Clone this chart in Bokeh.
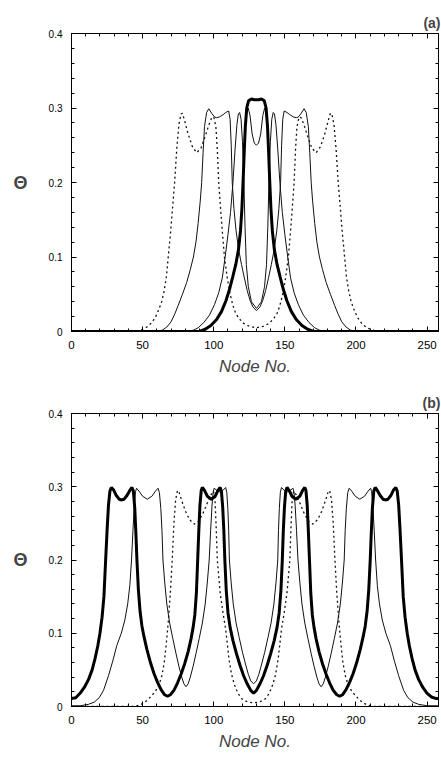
from bokeh.plotting import figure
from bokeh.models import FixedTicker, LinearAxis, Range1d
from bokeh.layouts import column
from bokeh.embed import file_html
from bokeh.resources import INLINE

FONT = "Liberation Sans"

# axis ticks
x_ticks = [0, 50, 100, 150, 200, 250]
x_tick_labels = ["0", "50", "100", "150", "200", "250"]
y_ticks = [0, 0.1, 0.2, 0.3, 0.4]
y_tick_labels = ["0", "0.1", "0.2", "0.3", "0.4"]
x_minor = list(range(0, 260, 10))
y_minor = [round(i * 0.02, 2) for i in range(21)]

# ---- panel (a): (node, theta) profiles ----
a_dotted = [(0, 0), (45, 0), (50, 0.003), (53, 0.006), (56, 0.011), (59, 0.019), (61.5, 0.03),
            (63.4, 0.04), (65.2, 0.055), (66.8, 0.075), (68, 0.1), (69.5, 0.13), (71, 0.165),
            (72.5, 0.2), (74, 0.245), (75.5, 0.278), (77, 0.292), (78, 0.293), (79.5, 0.283),
            (82, 0.265), (85, 0.248), (88, 0.24), (91, 0.246), (94, 0.262), (96.5, 0.277),
            (98.6, 0.287), (100, 0.288), (101.5, 0.275), (102.5, 0.245), (103.5, 0.2), (105, 0.16),
            (106.3, 0.128), (107.5, 0.1), (109.5, 0.072), (111.5, 0.05), (113.5, 0.035),
            (115.5, 0.024), (118, 0.017), (121, 0.011), (125, 0.007), (130, 0.005), (135, 0.007),
            (139, 0.011), (142, 0.017), (144.5, 0.024), (146.5, 0.035), (148.5, 0.05),
            (150.5, 0.072), (152.5, 0.1), (153.7, 0.128), (155, 0.16), (156.5, 0.2), (157.5, 0.245),
            (158.5, 0.275), (160, 0.288), (161.4, 0.287), (163.5, 0.277), (166, 0.262),
            (169, 0.246), (172, 0.24), (175, 0.248), (178, 0.265), (180.5, 0.283), (182, 0.293),
            (183, 0.292), (184.5, 0.278), (186, 0.245), (187.5, 0.2), (189, 0.165), (190.5, 0.13),
            (192, 0.1), (193.2, 0.075), (194.8, 0.055), (196.6, 0.04), (198.5, 0.03), (201, 0.019),
            (204, 0.011), (207, 0.006), (210, 0.003), (215, 0), (258, 0)]

a_wide = [(0, 0), (60, 0), (64, 0.002), (67, 0.006), (70, 0.013), (72.7, 0.024), (75, 0.035),
          (78, 0.05), (81, 0.066), (83.5, 0.083), (85.7, 0.1), (87.5, 0.12), (89, 0.145),
          (90.5, 0.175), (91.5, 0.2), (92.5, 0.24), (93.5, 0.275), (95, 0.294), (96.5, 0.299),
          (98.5, 0.293), (100.5, 0.288), (102, 0.287), (104, 0.288), (106.5, 0.291), (108.5, 0.294),
          (110.5, 0.296), (111.5, 0.285), (112.3, 0.25), (113, 0.2), (114.2, 0.165), (115.7, 0.135),
          (117.5, 0.11), (119.5, 0.09), (121.5, 0.072), (123.5, 0.055), (125.5, 0.042),
          (127.5, 0.033), (130, 0.028), (132.5, 0.033), (134.5, 0.042), (136.5, 0.055),
          (138.5, 0.072), (140.5, 0.09), (142.5, 0.11), (144.3, 0.135), (145.8, 0.165), (147, 0.2),
          (147.7, 0.25), (148.5, 0.285), (149.5, 0.296), (151.5, 0.294), (153.5, 0.291),
          (156, 0.288), (158, 0.287), (159.5, 0.288), (161.5, 0.293), (163.5, 0.299), (165, 0.294),
          (166.5, 0.275), (167.5, 0.24), (168.5, 0.2), (169.5, 0.175), (171, 0.145), (172.5, 0.12),
          (174.3, 0.1), (176.5, 0.083), (179, 0.066), (182, 0.05), (185, 0.035), (187.3, 0.024),
          (190, 0.013), (193, 0.006), (196, 0.002), (200, 0), (258, 0)]

a_narrow = [(0, 0), (82, 0), (86, 0.002), (89, 0.005), (93, 0.012), (97, 0.022), (100.5, 0.036),
            (103.5, 0.052), (106, 0.072), (108, 0.1), (110, 0.13), (111.8, 0.16), (113.5, 0.2),
            (115, 0.245), (116.3, 0.278), (117.3, 0.292), (118.2, 0.294), (119.2, 0.285),
            (120.2, 0.255), (121.2, 0.2), (122, 0.14), (122.9, 0.09), (124.3, 0.06),
            (126.5, 0.04), (130, 0.031), (133.5, 0.04), (135.7, 0.06), (137.1, 0.09),
            (138, 0.14), (138.8, 0.2), (139.8, 0.255), (140.8, 0.285), (141.8, 0.294),
            (142.7, 0.292), (143.7, 0.278), (145, 0.245), (146.5, 0.2), (148.2, 0.16), (150, 0.13),
            (152, 0.1), (154, 0.072), (156.5, 0.052), (159.5, 0.036), (163, 0.022), (167, 0.012),
            (171, 0.005), (174, 0.002), (178, 0), (258, 0)]

a_split = [(0, 0), (88, 0), (92, 0.002), (96, 0.006), (100, 0.012), (104, 0.022), (107.5, 0.036),
           (110.5, 0.052), (113, 0.07), (115, 0.088), (117, 0.11), (118.5, 0.135), (119.7, 0.165),
           (120.7, 0.2), (121.5, 0.24), (122.3, 0.275), (123.2, 0.295), (124.2, 0.3),
           (125.5, 0.29), (127, 0.265), (128.5, 0.253), (130, 0.25), (131.5, 0.253), (133, 0.265),
           (134.5, 0.29), (135.8, 0.3), (136.8, 0.295), (137.7, 0.275), (138.5, 0.24),
           (139.3, 0.2), (140.3, 0.165), (141.5, 0.135), (143, 0.11), (145, 0.088), (147, 0.07),
           (149.5, 0.052), (152.5, 0.036), (156, 0.022), (160, 0.012), (164, 0.006),
           (168, 0.002), (172, 0), (258, 0)]

a_merged = [(0, 0), (90, 0), (94, 0.003), (98, 0.008), (102, 0.016), (105.5, 0.027),
            (108.5, 0.041), (111, 0.056), (113.3, 0.073), (115.5, 0.09), (117.4, 0.11),
            (118.8, 0.135), (119.8, 0.165), (120.6, 0.2), (121.4, 0.24), (122.2, 0.275),
            (123.2, 0.3), (124.5, 0.31), (126.5, 0.312), (128.5, 0.311), (130, 0.311),
            (131.5, 0.311), (133.5, 0.312), (135.5, 0.31), (136.8, 0.3), (137.8, 0.275),
            (138.6, 0.24), (139.4, 0.2), (140.2, 0.165), (141.2, 0.135), (142.6, 0.11),
            (144.5, 0.09), (146.7, 0.073), (149, 0.056), (151.5, 0.041), (154.5, 0.027),
            (158, 0.016), (162, 0.008), (166, 0.003), (170, 0), (258, 0)]

# ---- panel (b) ----
b_dotted = [(0, 0), (44, 0), (48, 0.002), (51, 0.005), (54, 0.01), (56.5, 0.015), (59, 0.021),
            (61.5, 0.029), (63.5, 0.042), (65.2, 0.06), (66.6, 0.085), (68, 0.115), (69.5, 0.155),
            (70.8, 0.2), (72, 0.25), (73.2, 0.282), (74.5, 0.295), (75.7, 0.292), (77.5, 0.281),
            (80, 0.267), (83, 0.255), (86.3, 0.249), (89.3, 0.253), (92.3, 0.263), (95.3, 0.277),
            (98, 0.289), (99.8, 0.294), (100.8, 0.285), (101.6, 0.25), (102.5, 0.2), (104.5, 0.155),
            (106.5, 0.128), (108.4, 0.105), (110.7, 0.065), (112.5, 0.044), (114.5, 0.03),
            (117, 0.018), (120, 0.01), (124, 0.006), (128, 0.005), (132, 0.006), (136, 0.01),
            (139, 0.018), (141.5, 0.03), (143.5, 0.044), (145.3, 0.065), (147.6, 0.105),
            (149.5, 0.128), (151.5, 0.155), (153.5, 0.2), (154.4, 0.25), (155.2, 0.285),
            (156.2, 0.294), (158, 0.289), (160.7, 0.277), (163.7, 0.263), (166.7, 0.253),
            (169.7, 0.249), (173, 0.255), (176, 0.267), (178.5, 0.281), (180.3, 0.292),
            (181.5, 0.295), (182.8, 0.282), (184, 0.25), (185.2, 0.2), (186.5, 0.155), (188, 0.115),
            (189.4, 0.085), (190.8, 0.06), (192.5, 0.042), (194.5, 0.029), (197, 0.021),
            (199.5, 0.015), (202, 0.01), (205, 0.005), (208, 0.002), (212, 0), (258, 0)]

b_thin = [(0, 0.001), (6, 0.001), (12, 0.003), (16, 0.006), (19.5, 0.012), (22.5, 0.022),
          (26, 0.042), (29, 0.062), (31.8, 0.083), (35, 0.1), (37.5, 0.118), (39.5, 0.14),
          (41, 0.165), (42.2, 0.2), (43.2, 0.24), (44.2, 0.275), (45, 0.293), (45.7, 0.298),
          (47.5, 0.294), (50, 0.287), (53.3, 0.283), (56.5, 0.287), (59, 0.294), (60.8, 0.298),
          (61.8, 0.292), (62.8, 0.27), (63.6, 0.24), (64.3, 0.2), (65.5, 0.17), (67, 0.14),
          (69, 0.114), (71.2, 0.093), (73.5, 0.072), (75.5, 0.055), (77.5, 0.04), (79, 0.031),
          (80.5, 0.027), (82, 0.031), (83.5, 0.04), (85.5, 0.055), (87.5, 0.072), (89.8, 0.093),
          (92, 0.114), (94, 0.14), (95.5, 0.17), (96.8, 0.2), (97.8, 0.24), (98.8, 0.275),
          (99.6, 0.293), (100.3, 0.298), (102.2, 0.295), (104.3, 0.293), (106.4, 0.295),
          (108.4, 0.299), (109.2, 0.292), (109.9, 0.27), (110.5, 0.24), (111, 0.2), (112.2, 0.17),
          (113.7, 0.14), (115.7, 0.114), (117.9, 0.094), (120.2, 0.074), (122.3, 0.058),
          (124.3, 0.044), (126, 0.035), (128, 0.031), (130, 0.035), (131.7, 0.044),
          (133.7, 0.058), (135.8, 0.074), (138.1, 0.094), (140.3, 0.114), (142.3, 0.14),
          (143.8, 0.17), (145, 0.2), (145.5, 0.24), (146.1, 0.27), (146.8, 0.292), (147.6, 0.299),
          (149.6, 0.295), (151.7, 0.293), (153.8, 0.295), (155.7, 0.298), (156.4, 0.293),
          (157.2, 0.275), (158.2, 0.24), (159.2, 0.2), (160.5, 0.17), (162, 0.14), (164, 0.114),
          (166.2, 0.093), (168.5, 0.072), (170.5, 0.055), (172.5, 0.04), (174, 0.031),
          (175.5, 0.027), (177, 0.031), (178.5, 0.04), (180.5, 0.055), (182.5, 0.072),
          (184.8, 0.093), (187, 0.114), (189, 0.14), (190.5, 0.17), (191.7, 0.2), (192.4, 0.24),
          (193.2, 0.27), (194.2, 0.292), (195.2, 0.298), (197, 0.294), (199.5, 0.287),
          (202.7, 0.283), (206, 0.287), (208.5, 0.294), (210.3, 0.298), (211, 0.293),
          (211.8, 0.275), (212.8, 0.24), (213.8, 0.2), (215, 0.165), (216.5, 0.14), (218.5, 0.118),
          (221, 0.1), (224.2, 0.083), (227, 0.062), (230, 0.042), (233.5, 0.022), (236.5, 0.012),
          (240, 0.006), (244, 0.003), (250, 0.001), (258, 0.001)]

b_thick = [(0, 0.011), (3, 0.012), (6, 0.018), (9, 0.026), (12, 0.037), (14.5, 0.05),
           (16.5, 0.065), (18.5, 0.083), (20, 0.1), (21.5, 0.122), (22.8, 0.15), (24, 0.2),
           (25, 0.24), (26, 0.275), (27, 0.294), (28, 0.299), (29.5, 0.296), (31.5, 0.288),
           (33.5, 0.283), (35.3, 0.282), (37, 0.283), (39, 0.288), (41, 0.295), (42.5, 0.299),
           (43.5, 0.294), (44.5, 0.27), (45.3, 0.235), (46, 0.2), (47, 0.16), (48.2, 0.13),
           (49.5, 0.11), (51, 0.095), (53, 0.078), (55.5, 0.06), (58, 0.045), (60.5, 0.033),
           (63, 0.023), (65.5, 0.016), (67.5, 0.014), (69.5, 0.016), (72, 0.022), (74.5, 0.032),
           (77, 0.044), (79.5, 0.058), (82, 0.075), (84, 0.092), (85.5, 0.108), (86.7, 0.125),
           (87.8, 0.155), (88.7, 0.2), (89.5, 0.24), (90.3, 0.275), (91.2, 0.295), (92, 0.299),
           (93.5, 0.295), (95.5, 0.287), (98.3, 0.283), (101, 0.287), (103, 0.295), (104.5, 0.299),
           (105.4, 0.294), (106.3, 0.272), (107.1, 0.24), (107.8, 0.2), (108.8, 0.158),
           (110, 0.128), (111.5, 0.108), (113.5, 0.09), (116, 0.072), (118.5, 0.056), (121, 0.042),
           (123.5, 0.031), (126, 0.022), (128, 0.018), (130, 0.022), (132.5, 0.031), (135, 0.042),
           (137.5, 0.056), (140, 0.072), (142.5, 0.09), (144.5, 0.108), (146, 0.128),
           (147.2, 0.158), (148.2, 0.2), (148.9, 0.24), (149.7, 0.272), (150.6, 0.294),
           (151.5, 0.299), (153, 0.295), (155, 0.287), (157.7, 0.283), (160.5, 0.287),
           (162.5, 0.295), (164, 0.299), (164.8, 0.295), (165.7, 0.275), (166.5, 0.24),
           (167.3, 0.2), (168.2, 0.155), (169.3, 0.125), (170.5, 0.108), (172, 0.092),
           (174, 0.075), (176.5, 0.058), (179, 0.044), (181.5, 0.032), (184, 0.022),
           (186.5, 0.016), (188.5, 0.014), (190.5, 0.016), (193, 0.023), (195.5, 0.033),
           (198, 0.045), (200.5, 0.06), (203, 0.078), (205, 0.095), (206.5, 0.11), (207.8, 0.13),
           (209, 0.16), (210, 0.2), (210.7, 0.235), (211.5, 0.27), (212.5, 0.294), (213.5, 0.299),
           (215, 0.295), (217, 0.288), (219, 0.283), (220.7, 0.282), (222.5, 0.283), (224.5, 0.288),
           (226.5, 0.296), (228, 0.299), (229, 0.294), (230, 0.275), (231, 0.24), (232, 0.2),
           (233.2, 0.15), (234.5, 0.122), (236, 0.1), (237.5, 0.083), (239.5, 0.065),
           (241.5, 0.05), (244, 0.037), (247, 0.026), (250, 0.018), (253, 0.013), (256, 0.011),
           (258, 0.011)]

THIN = dict(line_color="#111111", line_width=1.0)
THICK = dict(line_color="#000000", line_width=3.0)
DOTTED = dict(line_color="#111111", line_width=1.3, line_dash="2 3")


def style_axis(ax, ticks, minor, labels, show_labels, label_size):
    ax.ticker = FixedTicker(ticks=ticks, minor_ticks=minor)
    ax.major_tick_in = 5
    ax.major_tick_out = 0
    ax.minor_tick_in = 3
    ax.minor_tick_out = 0
    ax.axis_line_color = "black"
    ax.major_tick_line_color = "black"
    ax.minor_tick_line_color = "black"
    if show_labels:
        ax.major_label_overrides = dict(zip(ticks, labels))
        ax.major_label_text_font = FONT
        ax.major_label_text_font_size = label_size
        ax.major_label_text_color = "black"
    else:
        # mirrored tick marks only, no labels painted
        ax.major_label_text_font_size = "1px"
        ax.major_label_text_color = None
        ax.major_label_standoff = 0


def panel(curves, tag, height, left, right, top, bottom):
    p = figure(width=441, height=height, x_range=Range1d(0, 258), y_range=Range1d(0, 0.4),
               output_backend="svg", toolbar_location=None,
               min_border_left=left, min_border_right=right,
               min_border_top=top, min_border_bottom=bottom)
    p.grid.visible = False
    p.outline_line_color = "black"
    p.background_fill_color = "white"
    p.border_fill_color = "white"

    for pts, style in curves:
        p.line([q[0] for q in pts], [q[1] for q in pts], **style)

    xa = p.xaxis[0]
    ya = p.yaxis[0]
    style_axis(xa, x_ticks, x_minor, x_tick_labels, True, "11.5px")
    style_axis(ya, y_ticks, y_minor, y_tick_labels, True, "10px")
    xa.major_label_standoff = 9
    ya.major_label_standoff = 9

    xa.axis_label = "Node No."
    xa.axis_label_text_font = FONT
    xa.axis_label_text_font_style = "italic"
    xa.axis_label_text_font_size = "17px"
    xa.axis_label_standoff = 5

    ya.axis_label = "\u0398"
    ya.axis_label_orientation = "horizontal"
    ya.axis_label_text_font = FONT
    ya.axis_label_text_font_style = "bold"
    ya.axis_label_text_font_size = "18px"
    ya.axis_label_standoff = 18

    top_ax = LinearAxis()
    right_ax = LinearAxis()
    style_axis(top_ax, x_ticks, x_minor, x_tick_labels, False, "0px")
    style_axis(right_ax, y_ticks, y_minor, y_tick_labels, False, "0px")
    p.add_layout(top_ax, "above")
    p.add_layout(right_ax, "right")

    # panel tag, right-aligned over the frame
    p.title.text = tag
    p.title.align = "right"
    p.title.text_font = FONT
    p.title.text_font_size = "14px"
    p.title.text_font_style = "bold"
    p.title.offset = -2
    p.title.standoff = 6
    return p


pa = panel([(a_dotted, DOTTED), (a_wide, THIN), (a_narrow, THIN), (a_split, THIN),
            (a_merged, THICK)], "(a)", 380, 71, 2, 33, 49)
pb = panel([(b_dotted, DOTTED), (b_thin, THIN), (b_thick, THICK)], "(b)", 378, 68, 3, 33, 52)

layout = column(pa, pb, spacing=0)
open("out.html", "w").write(file_html(layout, INLINE))
